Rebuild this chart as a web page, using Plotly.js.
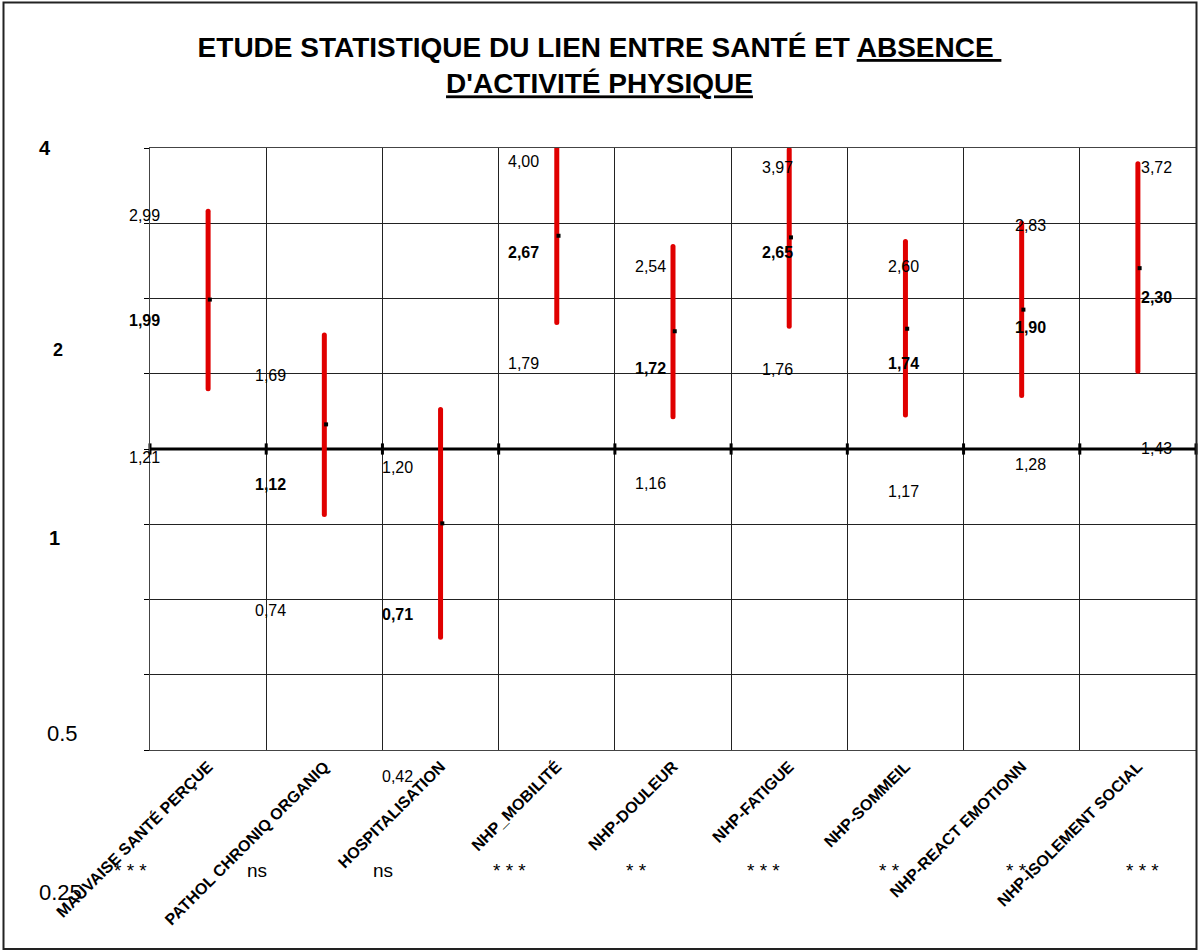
<!DOCTYPE html>
<html><head><meta charset="utf-8">
<script src="https://cdn.plot.ly/plotly-3.0.1.min.js"></script>
<style>html,body{margin:0;padding:0;background:#fff}</style>
</head><body>
<div id="chart" style="width:1199px;height:952px"></div>
<script>
// ---------- data ----------
const categories = ["MAUVAISE SANTÉ PERÇUE","PATHOL CHRONIQ ORGANIQ","HOSPITALISATION","NHP_MOBILITÉ","NHP-DOULEUR","NHP-FATIGUE","NHP-SOMMEIL","NHP-REACT EMOTIONN","NHP-ISOLEMENT SOCIAL"];
const oddsRatio = [1.99, 1.12, 0.71, 2.67, 1.72, 2.65, 1.74, 1.90, 2.30];
const ciHigh    = [2.99, 1.69, 1.20, 4.00, 2.54, 3.97, 2.60, 2.83, 3.72];
const ciLow     = [1.32, 0.74, 0.42, 1.79, 1.16, 1.76, 1.17, 1.28, 1.43];
const highText  = ["2,99","1,69","1,20","4,00","2,54","3,97","2,60","2,83","3,72"];
const orText    = ["1,99","1,12","0,71","2,67","1,72","2,65","1,74","1,90","2,30"];
const lowText   = ["1,21","0,74","0,42","1,79","1,16","1,76","1,17","1,28","1,43"];
const significance = ["* * *","ns","ns","* * *","* *","* * *","* *","* *","* * *"];
const yTickLabels = ["4","2","1","0.5","0.25"];
const referenceValue = 1;

// ---------- geometry / style ----------
const W = 1199, H = 952, ML = 150, MR = 3, MT = 148, MB = 202;
const PW = W - ML - MR, PH = H - MT - MB;
const px = x => (x - ML) / PW;
const py = y => (H - MB - y) / PH;
const FONT = "Liberation Sans, Arial, sans-serif";
const RED = "#e00000";

const idx = categories.map((_, i) => i);
const boundaries = categories.map((_, i) => i - 0.5).concat([categories.length - 0.5]);
const gridVals = [0.25, 0.3536, 0.5, 0.7071, 1, 1.4142, 2, 2.8284, 4];

// CI segments
const segX = [], segY = [];
idx.forEach(i => { segX.push(i, i, null); segY.push(ciLow[i], ciHigh[i], null); });

const traces = [
  { x: boundaries, y: boundaries.map(() => referenceValue), mode: "lines+markers",
    line: { color: "#000", width: 3 },
    marker: { symbol: "line-ns", size: 8, line: { width: 3, color: "#000" } },
    cliponaxis: false, hoverinfo: "skip", showlegend: false },
  { x: segX, y: segY, mode: "lines", line: { color: RED, width: 5 },
    hoverinfo: "skip", showlegend: false },
  { x: idx.map(i => i + 0.015), y: oddsRatio, mode: "markers",
    marker: { symbol: "square", size: 4, color: "#000" },
    showlegend: false }
];

// value label positions (pixel) as laid out in the original
const colX = i => 144 + 126.6 * i;
const highY = [216, 375, 467, 161, 266, 167, 266, 226, 167];
const orY   = [320, 484, 614, 252, 368, 252, 363, 327, 297];
const lowY  = [457, 610, 776, 363, 483, 369, 491, 465, 448];

const annotations = [];
idx.forEach(i => {
  [[highText, highY, 400], [orText, orY, 700], [lowText, lowY, 400]].forEach(([txt, ys, w]) => {
    annotations.push({ xref: "paper", yref: "paper", x: px(colX(i)), y: py(ys[i]),
      text: txt[i], showarrow: false, xanchor: "center", yanchor: "middle",
      font: { family: FONT, size: 16, color: "#000", weight: w } });
  });
  annotations.push({ xref: "paper", yref: "paper", x: px(130 + 126.6 * i), y: py(870),
    text: significance[i], showarrow: false, xanchor: "center", yanchor: "middle",
    font: { family: FONT, size: 19, color: "#000" } });
});

// y tick labels as placed in the original
const yTickPos = [[45, 148, 20, 700], [58, 350, 18, 700], [54, 538, 20, 700], [62, 733, 22, 400], [60, 892, 22, 400]];
yTickLabels.forEach((t, k) => {
  const [x, y, s, w] = yTickPos[k];
  annotations.push({ xref: "paper", yref: "paper", x: px(x), y: py(y), text: t,
    showarrow: false, xanchor: "center", yanchor: "middle",
    font: { family: FONT, size: s, color: "#000", weight: w } });
});

const layout = {
  width: W, height: H,
  margin: { l: ML, r: MR, t: MT, b: MB, pad: 0 },
  paper_bgcolor: "#fff", plot_bgcolor: "#fff",
  font: { family: FONT, color: "#000" },
  showlegend: false,
  title: {
    text: "ETUDE STATISTIQUE DU LIEN ENTRE SANTÉ ET <u>ABSENCE </u><br><u>D'ACTIVITÉ PHYSIQUE</u>",
    font: { family: FONT, size: 28, color: "#000", weight: 700 },
    x: 0.5, xref: "container", xanchor: "center",
    y: 1 - 57 / H, yref: "container", yanchor: "top"
  },
  xaxis: {
    range: [-0.5, categories.length - 0.5], tickmode: "array", tickvals: idx, ticktext: categories,
    tickangle: -45, tickfont: { family: FONT, size: 16, color: "#000", weight: 700 },
    ticks: "", showgrid: false, zeroline: false,
    showline: true, mirror: true, linecolor: "#444", linewidth: 1,
    minor: { tickmode: "array", tickvals: boundaries, showgrid: true, gridcolor: "#222", gridwidth: 1, ticks: "" },
    fixedrange: true
  },
  yaxis: {
    type: "log", range: [Math.log10(0.25), Math.log10(4)],
    tickmode: "array", tickvals: gridVals, showticklabels: false,
    ticks: "outside", ticklen: 5, tickcolor: "#000", tickwidth: 1,
    showgrid: true, gridcolor: "#222", gridwidth: 1,
    showline: true, mirror: true, linecolor: "#444", linewidth: 1, zeroline: false,
    fixedrange: true
  },
  shapes: [
    { type: "rect", xref: "paper", yref: "paper",
      x0: px(3.5), x1: px(1196.5), y0: py(949), y1: py(2.5),
      line: { color: "#222", width: 2 }, fillcolor: "rgba(0,0,0,0)", layer: "above" }
  ],
  annotations: annotations
};

Plotly.newPlot("chart", traces, layout, { displayModeBar: false, staticPlot: true }).then(gd => {
  const lines = gd.querySelectorAll(".scatterlayer .trace")[1].querySelectorAll("path.js-line");
  lines.forEach(p => p.style.strokeLinecap = "round");
});
</script>
</body></html>
